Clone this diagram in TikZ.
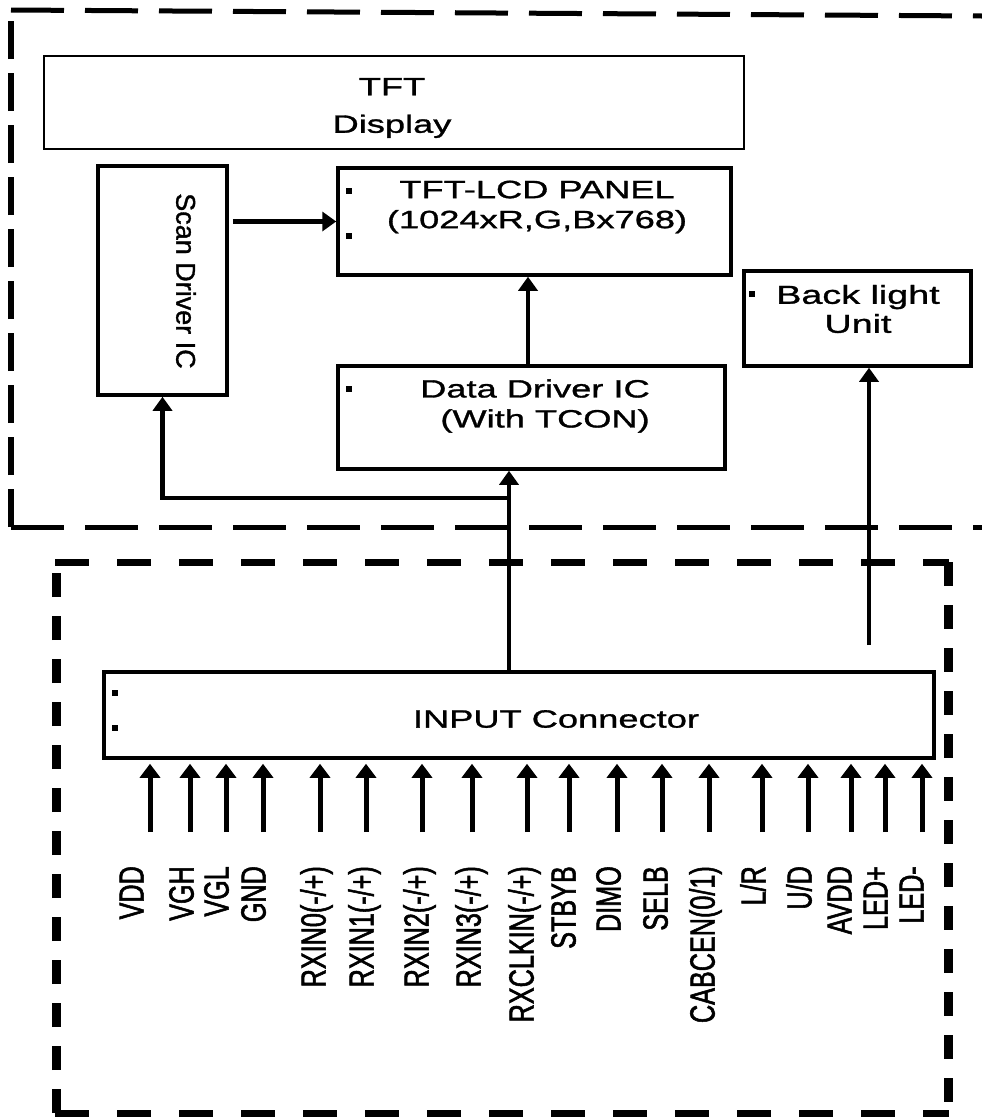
\documentclass[tikz,border=0pt]{standalone}
\usepackage{fontspec}
\setmainfont{Liberation Sans}
\newfontfamily\plainface[FakeBold = 1.2]{Liberation Sans}
\newfontfamily\wideface[FakeStretch = 1.45, FakeBold = 1.2]{Liberation Sans}
\newfontfamily\narrowface[FakeStretch = 0.72, FakeBold = 1.5]{Liberation Sans}
\usetikzlibrary{arrows.meta}

\tikzset{
  blk/.style = {draw, line width = 3.5pt, inner sep = 0pt},
  txt/.style = {inner sep = 0pt, align = center,
                font = \wideface\fontsize{25}{30}\selectfont},
  arr/.style = {line width = 4.5pt, -{Triangle[width = 19pt, length = 14pt]}},
  pinarr/.style = {line width = 5pt, -{Triangle[width = 20pt, length = 14pt]}},
  pinlab/.style = {rotate = 90, anchor = east, inner sep = 0pt,
                   text height = 0.72em, text depth = 0pt,
                   font = \narrowface\fontsize{35}{35}\selectfont},
  outerh/.style = {line width = 5pt, dash pattern = on 53pt off 21pt},
  outerv/.style = {line width = 6pt, dash pattern = on 38pt off 14pt},
  innerh/.style = {line width = 7pt, dash pattern = on 34pt off 28pt},
  innerv/.style = {line width = 9pt, dash pattern = on 24pt off 19pt}
}

\begin{document}
\begin{tikzpicture}[x = 1pt, y = -1pt]
  \useasboundingbox (0,0) rectangle (982,1117);

  \draw [outerh] (11,10) -- (982,16);
  \draw [outerh] (11,527) -- (982,527);
  \draw [outerv] (11,527) -- (11,10);

  \draw [innerh] (55,562) -- (949,562);
  \draw [innerh] (55,1113) -- (949,1113);
  \draw [innerv] (56,1113) -- (56,562);
  \draw [innerv] (948,562) -- (948,1113);

  \node [blk, line width = 2pt, minimum width = 700pt, minimum height = 93pt]
    (disp) at (394,102.5) {};
  \node [txt, font = \wideface\fontsize{25}{37.5}\selectfont]
    at (392,108) {TFT\\Display};

  \node [blk, minimum width = 129pt, minimum height = 229pt] (scan) at (162.5,280.5) {};
  \node [inner sep = 0pt, rotate = -90, font = \plainface\fontsize{27}{30}\selectfont]
    at (186,281) {Scan Driver IC};

  \node [blk, minimum width = 393pt, minimum height = 107pt] (panel) at (534.5,221.5) {};
  \node [txt] at (537,207) {TFT-LCD PANEL\\(1024xR,G,Bx768)};

  \node [blk, minimum width = 387pt, minimum height = 103pt] (data) at (531.5,417.5) {};
  \node [txt] at (535,406) {Data Driver IC\\\ \ (With TCON)};

  \node [blk, minimum width = 227pt, minimum height = 95pt] (blu) at (857.5,318.5) {};
  \node [txt, font = \wideface\fontsize{26}{29}\selectfont]
    at (858,309) {Back light\\Unit};

  \node [blk, minimum width = 830pt, minimum height = 86pt] (inp) at (519,715) {};
  \node [txt] at (556,719) {INPUT Connector};

  \foreach \bx/\by in {349/191, 349/236, 349/389, 752/294, 115/693, 115/728}
    \fill (\bx-3,\by-3) rectangle ++(6,6);

  \draw [arr, shorten < = 4pt] (scan.east |- panel.west) -- (panel.west);
  \draw [arr] (528,0 |- data.north) -- (528,0 |- panel.south);
  \draw [arr] (509,0 |- inp.north) -- (509,0 |- data.south);
  \coordinate (split) at (509,498);
  \draw [arr] (split) -| (scan.south);
  \coordinate (blfeed) at (869,645);
  \draw [arr] (blfeed) -- (869,0 |- blu.south);

  \foreach \px/\lx/\pname [count = \i] in {150/140/VDD, 190/190/VGH, 226/225/VGL,
      263/262/GND, 320/322/{RXIN0(-/+)}, 366/370/{RXIN1(-/+)}, 422/425/{RXIN2(-/+)},
      472/477/{RXIN3(-/+)}, 527/530/{RXCLKIN(-/+)}, 569/572/STBYB, 617/617/DIMO,
      662/664/SELB, 709/711/{CABCEN(0/1)}, 762/762/{L/R}, 808/808/{U/D},
      851/848/AVDD, 885/884/{LED+}, 922/920/{LED-}} {
    \coordinate (pin\i) at (\px,832);
    \draw [pinarr, shorten > = 4pt] (pin\i) -- (pin\i |- inp.south);
    \node [pinlab] (lab\i) at (\lx,866) {\pname};
  }
\end{tikzpicture}
\end{document}
